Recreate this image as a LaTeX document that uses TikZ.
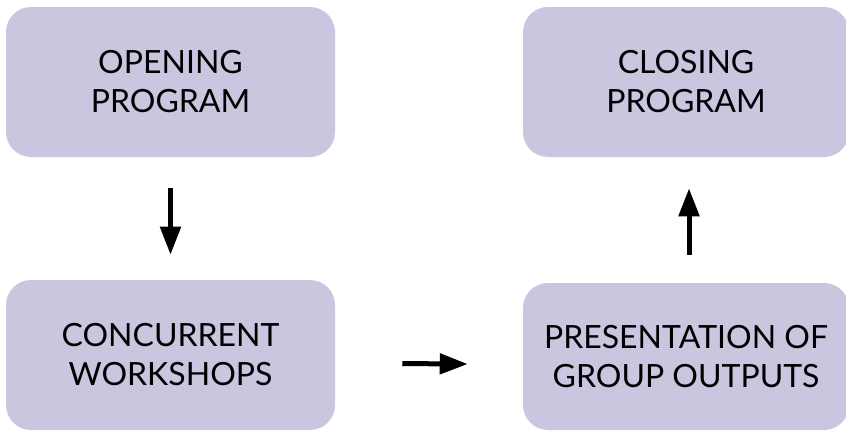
\documentclass[tikz,border=0pt]{standalone}
\usepackage{fontspec}
\setmainfont{Lato}
\usetikzlibrary{arrows.meta}

\definecolor{boxfill}{HTML}{C9C6E0}

\tikzset{
  stagebox/.style={rectangle, rounded corners=18.75pt, fill=boxfill, draw=none,
    inner sep=0pt, align=center, font=\fontsize{24}{29.25}\selectfont},
  flowarrow/.style={line width=3.75pt, -{Triangle[length=21pt,width=15pt]}}
}

\begin{document}
\begin{tikzpicture}[x=0.75pt,y=0.75pt,yscale=-1,xscale=1]
        \useasboundingbox (0,0) rectangle (846,432);

        % Boxes
        \node [stagebox, minimum width=246.75pt, minimum height=112.5pt] (opening) at (170.5,82) {OPENING\\PROGRAM};
        \node [stagebox, minimum width=244.5pt, minimum height=112.5pt] (closing) at (686,82) {CLOSING\\PROGRAM};
        \node [stagebox, minimum width=246.75pt, minimum height=112.5pt] (concurrent) at (170.5,355) {CONCURRENT\\WORKSHOPS};
        \node [stagebox, minimum width=244.5pt, minimum height=110.25pt] (presentation) at (686,356.5) {PRESENTATION OF\\GROUP OUTPUTS};

        % Arrows
        \draw [flowarrow, shorten <=23.25pt, shorten >=18.75pt] (opening) -- (concurrent);
        \draw [flowarrow, shorten <=50.25pt, shorten >=41.25pt] ([yshift=6pt]concurrent.east) -- ([yshift=6pt]presentation.west);
        \draw [flowarrow, shorten <=21pt, shorten >=23.25pt] ([xshift=2.25pt]presentation.north) -- ([xshift=2.25pt]closing.south);

\end{tikzpicture}
\end{document}
